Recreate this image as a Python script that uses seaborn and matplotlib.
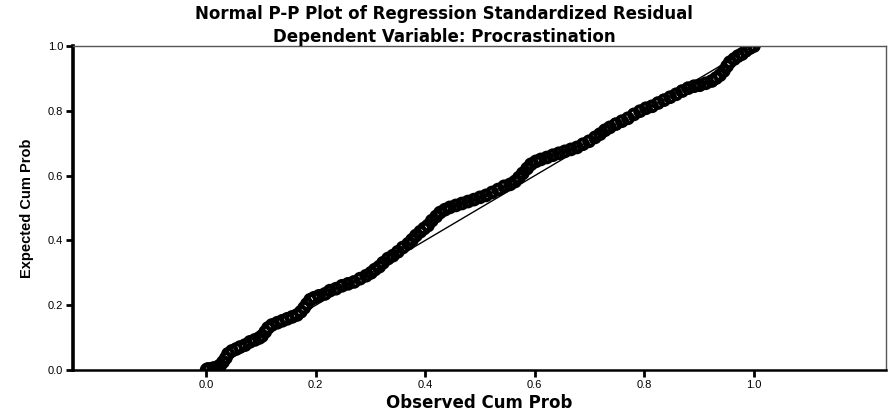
import numpy as np
import pandas as pd
import seaborn as sns
import matplotlib.pyplot as plt
from matplotlib import font_manager

# observed / expected cumulative probabilities
observed = [0.001, 0.003, 0.005, 0.013, 0.020, 0.026, 0.031, 0.036, 0.040, 0.047,
            0.055, 0.062, 0.071, 0.080, 0.089, 0.097, 0.102, 0.108, 0.113, 0.120,
            0.130, 0.139, 0.148, 0.157, 0.166, 0.173, 0.179, 0.184, 0.190, 0.197,
            0.206, 0.217, 0.226, 0.237, 0.248, 0.259, 0.270, 0.281, 0.292, 0.301,
            0.308, 0.316, 0.323, 0.332, 0.341, 0.350, 0.359, 0.369, 0.376, 0.383,
            0.391, 0.398, 0.405, 0.412, 0.420, 0.427, 0.436, 0.445, 0.456, 0.467,
            0.478, 0.489, 0.500, 0.511, 0.522, 0.533, 0.544, 0.555, 0.564, 0.571,
            0.578, 0.586, 0.593, 0.602, 0.611, 0.622, 0.633, 0.644, 0.655, 0.666,
            0.677, 0.688, 0.699, 0.710, 0.719, 0.728, 0.737, 0.748, 0.759, 0.770,
            0.781, 0.792, 0.803, 0.814, 0.825, 0.836, 0.847, 0.858, 0.869, 0.880,
            0.891, 0.901, 0.912, 0.923, 0.931, 0.938, 0.945, 0.951, 0.956, 0.964,
            0.971, 0.978, 0.985, 0.993, 1.000]
expected = [0.001, 0.003, 0.003, 0.006, 0.009, 0.015, 0.025, 0.037, 0.050, 0.059,
            0.065, 0.071, 0.077, 0.087, 0.093, 0.099, 0.105, 0.118, 0.130, 0.139,
            0.146, 0.152, 0.158, 0.164, 0.170, 0.180, 0.192, 0.204, 0.217, 0.223,
            0.229, 0.235, 0.245, 0.251, 0.260, 0.266, 0.272, 0.282, 0.291, 0.300,
            0.310, 0.319, 0.331, 0.344, 0.353, 0.365, 0.378, 0.390, 0.402, 0.415,
            0.427, 0.437, 0.446, 0.461, 0.474, 0.486, 0.495, 0.502, 0.508, 0.514,
            0.520, 0.526, 0.533, 0.539, 0.548, 0.557, 0.567, 0.573, 0.582, 0.594,
            0.607, 0.622, 0.635, 0.644, 0.650, 0.656, 0.663, 0.669, 0.675, 0.681,
            0.687, 0.697, 0.706, 0.718, 0.728, 0.740, 0.749, 0.759, 0.768, 0.777,
            0.789, 0.799, 0.808, 0.814, 0.824, 0.833, 0.842, 0.851, 0.861, 0.870,
            0.876, 0.879, 0.885, 0.892, 0.901, 0.910, 0.923, 0.938, 0.950, 0.960,
            0.969, 0.975, 0.985, 0.994, 1.000]
diagonal = [0.0, 1.0]
tick_vals = [0.0, 0.2, 0.4, 0.6, 0.8, 1.0]

df = pd.DataFrame({'Observed Cum Prob': observed, 'Expected Cum Prob': expected})

sns.set_style('white')
plt.rcParams['font.family'] = ['Liberation Sans', 'DejaVu Sans']
plt.rcParams['text.color'] = 'black'
plt.rcParams['axes.labelcolor'] = 'black'
plt.rcParams['xtick.color'] = 'black'
plt.rcParams['ytick.color'] = 'black'

names = {f.name for f in font_manager.fontManager.ttflist}
narrow = 'Liberation Sans Narrow' if 'Liberation Sans Narrow' in names else 'Liberation Sans'

fig = plt.figure(figsize=(8.88, 4.13), dpi=100)
ax = fig.add_axes([0.0822, 0.104, 0.9155, 0.7846])

sns.lineplot(x=diagonal, y=diagonal, ax=ax, color='black', linewidth=1.0)
sns.scatterplot(data=df, x='Observed Cum Prob', y='Expected Cum Prob', ax=ax,
                marker='o', s=50, facecolor='none', edgecolor='black', linewidth=2.8)

ax.set_xlim(-0.243, 1.241)
ax.set_ylim(0, 1)
ax.set_xticks(tick_vals)
ax.set_yticks(tick_vals)
ax.set_xticklabels(['%.1f' % v for v in tick_vals])
ax.set_yticklabels(['%.1f' % v for v in tick_vals])
ax.tick_params(axis='both', direction='out', length=5, width=2, color='black',
               labelsize=8, pad=2, left=True, bottom=True, labelcolor='black')

ax.spines['left'].set_linewidth(2.6)
ax.spines['left'].set_color('black')
ax.spines['bottom'].set_linewidth(1.8)
ax.spines['bottom'].set_color('black')
for side in ['top', 'right']:
    ax.spines[side].set_linewidth(1.0)
    ax.spines[side].set_color('#555555')

ax.set_xlabel('Observed Cum Prob', fontsize=12, fontweight='heavy', labelpad=3,
              family=['DejaVu Sans'], color='black')
ax.set_ylabel('Expected Cum Prob', fontsize=10.5, fontweight='bold', labelpad=10,
              family=[narrow, 'DejaVu Sans'], color='black')

fig.text(0.5, 0.966, 'Normal P-P Plot of Regression Standardized Residual',
         ha='center', va='center', fontsize=12, fontweight='heavy',
         family=['DejaVu Sans'], color='black')
fig.text(0.5, 0.910, 'Dependent Variable: Procrastination',
         ha='center', va='center', fontsize=12, fontweight='heavy',
         family=['DejaVu Sans'], color='black')

plt.savefig('out.png', dpi=100)
